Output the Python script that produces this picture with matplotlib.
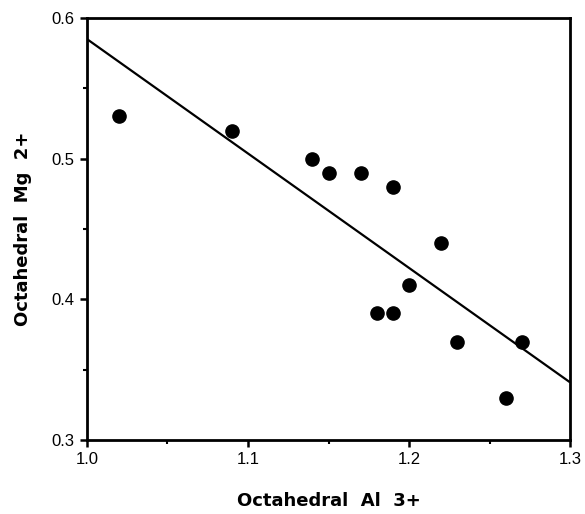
"""Octahedral Mg vs Al scatter with fitted line."""

import matplotlib

matplotlib.use("Agg")
import matplotlib.pyplot as plt
from matplotlib.ticker import MultipleLocator

plt.rcParams["font.family"] = ["Liberation Sans", "DejaVu Sans"]

AL_3 = [1.02, 1.09, 1.14, 1.15, 1.17, 1.19, 1.22, 1.20, 1.18, 1.19, 1.23, 1.27, 1.26]
MG_2 = [0.53, 0.52, 0.50, 0.49, 0.49, 0.48, 0.44, 0.41, 0.39, 0.39, 0.37, 0.37, 0.33]
FIT_X = [1.0, 1.3]
FIT_Y = [0.585, 0.341]


def main():
    fig = plt.figure(figsize=(5.85, 5.14), dpi=100)
    ax = fig.add_axes([0.1487, 0.144, 0.8257, 0.821])

    ax.plot(FIT_X, FIT_Y, color="black", linewidth=1.6, solid_capstyle="butt")
    ax.plot(AL_3, MG_2, "o", color="black", markersize=9.5, linestyle="none")

    ax.set_xlim(1.0, 1.3)
    ax.set_ylim(0.3, 0.6)
    ax.xaxis.set_major_locator(MultipleLocator(0.1))
    ax.xaxis.set_minor_locator(MultipleLocator(0.05))
    ax.yaxis.set_major_locator(MultipleLocator(0.1))
    ax.yaxis.set_minor_locator(MultipleLocator(0.05))
    ax.xaxis.set_major_formatter(lambda v, _: f"{v:.1f}")
    ax.yaxis.set_major_formatter(lambda v, _: f"{v:.1f}")

    for spine in ax.spines.values():
        spine.set_linewidth(2.0)
    ax.tick_params(which="major", direction="out", length=5, width=1.8,
                   labelsize=12, pad=4)
    ax.tick_params(which="minor", direction="out", length=3, width=1.5)

    label_font = dict(family=["DejaVu Sans"], fontsize=13, fontweight="bold")
    ax.set_xlabel("Octahedral  Al  3+", labelpad=18, **label_font)
    ax.set_ylabel("Octahedral  Mg  2+", labelpad=14, **label_font)

    fig.savefig("out.png", dpi=100)
    plt.close(fig)


if __name__ == "__main__":
    main()
